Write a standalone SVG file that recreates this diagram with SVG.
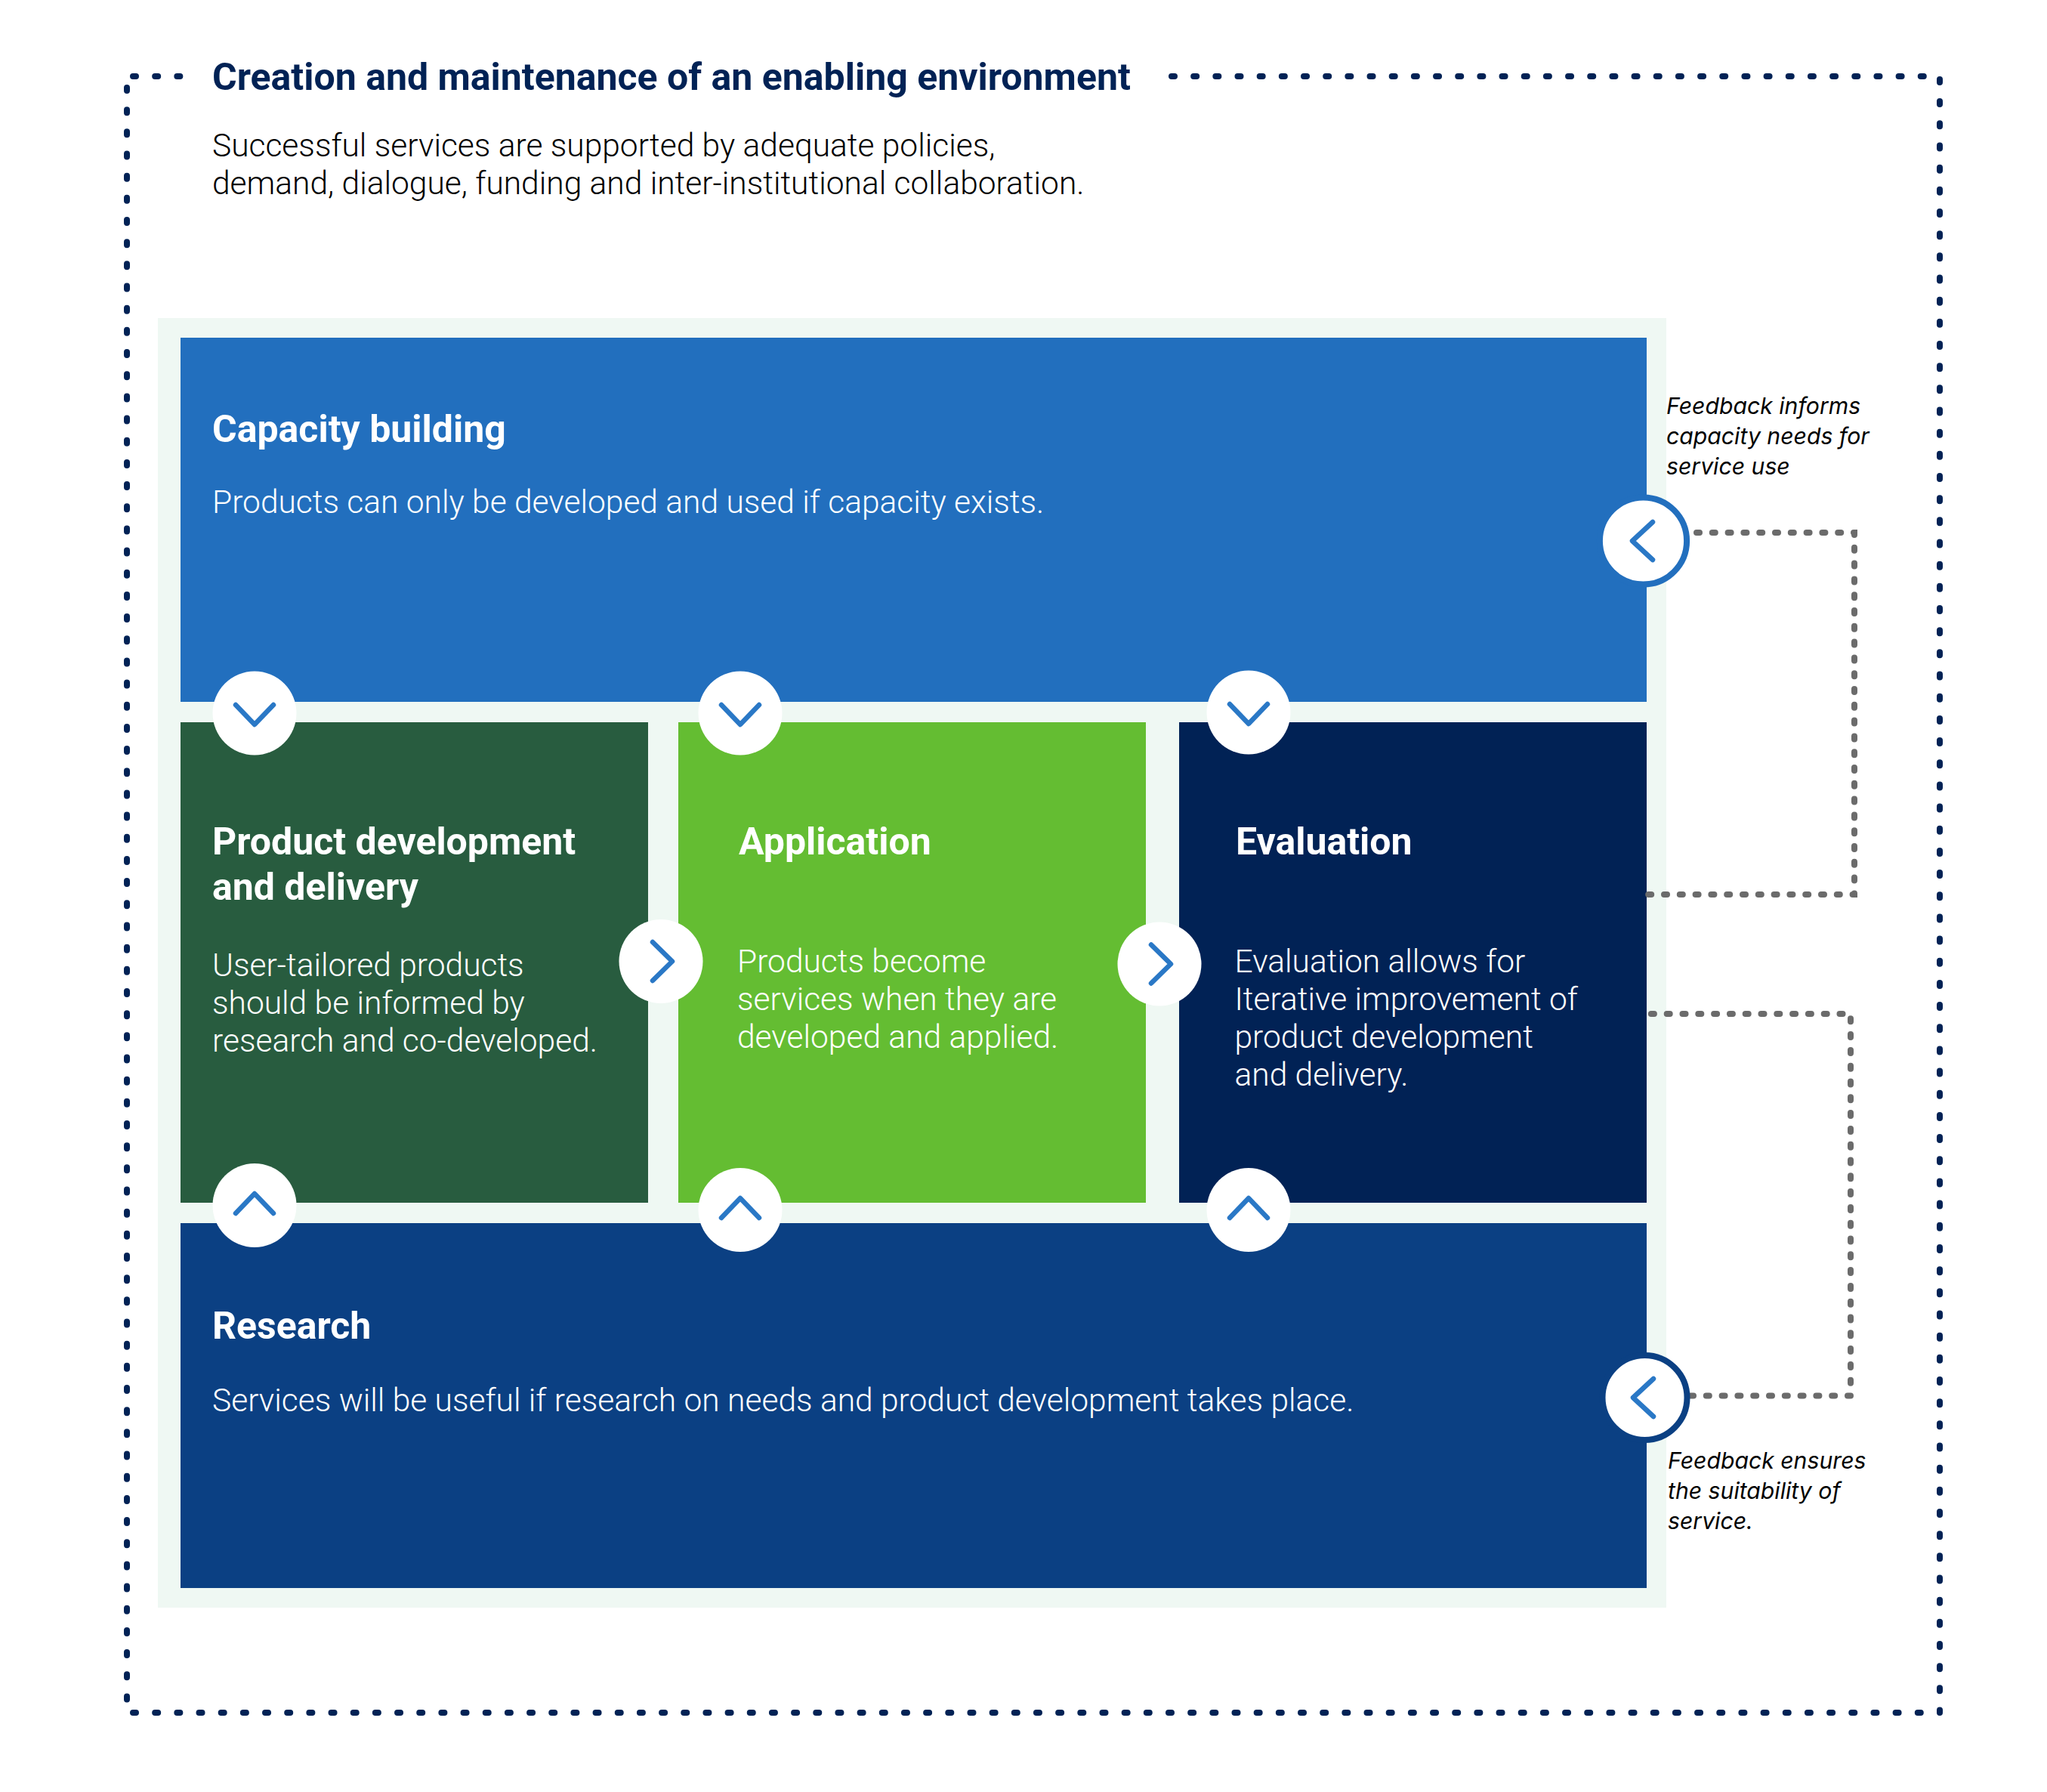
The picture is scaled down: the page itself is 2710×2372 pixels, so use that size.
<svg xmlns="http://www.w3.org/2000/svg" width="2710" height="2372" viewBox="0 0 2710 2372">
<style>
text{font-family:Roboto,"Liberation Sans",sans-serif}
.h{font-size:50px;font-weight:700;fill:#fff}
.b{font-size:42.5px;font-weight:300;fill:#fff}
.t{fill:#012255}
.d{fill:#000}
.f{font-family:Inter,Roboto,sans-serif;font-size:30.2px;font-style:italic;fill:#000}
.outer{fill:none;stroke:#012255;stroke-width:8;stroke-linecap:round;stroke-dasharray:4 25.17}
.fb{fill:none;stroke:#6b6b6b;stroke-width:8;stroke-linecap:round;stroke-dasharray:4 16.8}
.w{fill:#fff}
.c{fill:none;stroke:#2a78c6;stroke-width:6.5;stroke-linecap:round;stroke-linejoin:round}
</style>
<rect width="2710" height="2372" fill="#fff"/>
<g id="environment">
<text class="h t" x="281" y="119">Creation and maintenance of an enabling environment</text>
<text class="b d" x="281" y="207">Successful services are supported by adequate policies,</text>
<text class="b d" x="281" y="257">demand, dialogue, funding and inter-institutional collaboration.</text>
</g>
<g id="connectors-outer">
<path class="outer" d="M176 101H240"/>
<path class="outer" d="M168 116V2250"/>
<path class="outer" d="M176 2267H2550"/>
<path class="outer" d="M1551 101H2568V2267"/>
</g>
<rect id="panel" x="209" y="421" width="1997" height="1707" fill="#eff8f3"/>
<g id="capacity">
<rect x="239" y="447" width="1941" height="482" fill="#226fbe"/>
<text class="h" x="281" y="585">Capacity building</text>
<text class="b" x="281" y="679">Products can only be developed and used if capacity exists.</text>
</g>
<g id="product">
<rect x="239" y="956" width="619" height="636" fill="#285c3f"/>
<text class="h" x="281" y="1131">Product development</text>
<text class="h" x="281" y="1191">and delivery</text>
<text class="b" x="281" y="1292">User-tailored products</text>
<text class="b" x="281" y="1342">should be informed by</text>
<text class="b" x="281" y="1392">research and co-developed.</text>
</g>
<g id="application">
<rect x="898" y="956" width="619" height="636" fill="#64bd32"/>
<text class="h" x="978" y="1131">Application</text>
<text class="b" x="976" y="1286.5">Products become</text>
<text class="b" x="976" y="1336.5">services when they are</text>
<text class="b" x="976" y="1386.5">developed and applied.</text>
</g>
<g id="evaluation">
<rect x="1561" y="956" width="619" height="636" fill="#012255"/>
<text class="h" x="1636" y="1131">Evaluation</text>
<text class="b" x="1634.5" y="1287">Evaluation allows for</text>
<text class="b" x="1634.5" y="1337">Iterative improvement of</text>
<text class="b" x="1634.5" y="1387">product development</text>
<text class="b" x="1634.5" y="1437">and delivery.</text>
</g>
<g id="research">
<rect x="239" y="1619" width="1941" height="483" fill="#0b4083"/>
<text class="h" x="281" y="1772">Research</text>
<text class="b" x="281" y="1867.5">Services will be useful if research on needs and product development takes place.</text>
</g>
<g id="connectors">
<path class="fb" d="M2246 705H2455V1184H2179"/>
<path class="fb" d="M2238 1847.5H2450V1342H2181"/>
<g id="arrow-down-1"><circle class="w" cx="337" cy="944" r="55.5"/><path class="c" d="M312 933L337 959L362 933"/></g>
<g id="arrow-down-2"><circle class="w" cx="980" cy="944" r="55.5"/><path class="c" d="M955 933L980 959L1005 933"/></g>
<g id="arrow-down-3"><circle class="w" cx="1653" cy="943" r="55.5"/><path class="c" d="M1628 932L1653 958L1678 932"/></g>
<g id="arrow-right-1"><circle class="w" cx="875" cy="1272.5" r="55.5"/><path class="c" d="M864 1247L890 1272.5L864 1298"/></g>
<g id="arrow-right-2"><circle class="w" cx="1535" cy="1276" r="55.5"/><path class="c" d="M1524 1250.5L1550 1276L1524 1301.5"/></g>
<g id="arrow-up-1"><circle class="w" cx="337" cy="1595.5" r="55.5"/><path class="c" d="M312 1606L337 1580L362 1606"/></g>
<g id="arrow-up-2"><circle class="w" cx="980" cy="1601.5" r="55.5"/><path class="c" d="M955 1612L980 1586L1005 1612"/></g>
<g id="arrow-up-3"><circle class="w" cx="1653" cy="1601.5" r="55.5"/><path class="c" d="M1628 1612L1653 1586L1678 1612"/></g>
<g id="arrow-left-1"><circle class="w" cx="2175.5" cy="716" r="57.6" stroke="#226fbe" stroke-width="8"/><path class="c" d="M2188 691L2161 716L2188 741"/></g>
<g id="arrow-left-2"><circle class="w" cx="2177.5" cy="1850" r="56" stroke="#0b4083" stroke-width="8"/><path class="c" d="M2189 1825L2162 1850L2189 1875"/></g>
</g>
<g id="feedback-top">
<text class="f" x="2206" y="548">Feedback informs</text>
<text class="f" x="2206" y="588">capacity needs for</text>
<text class="f" x="2206" y="628">service use</text>
</g>
<g id="feedback-bottom">
<text class="f" x="2208" y="1944">Feedback ensures</text>
<text class="f" x="2208" y="1984">the suitability of</text>
<text class="f" x="2208" y="2024">service.</text>
</g>
</svg>
